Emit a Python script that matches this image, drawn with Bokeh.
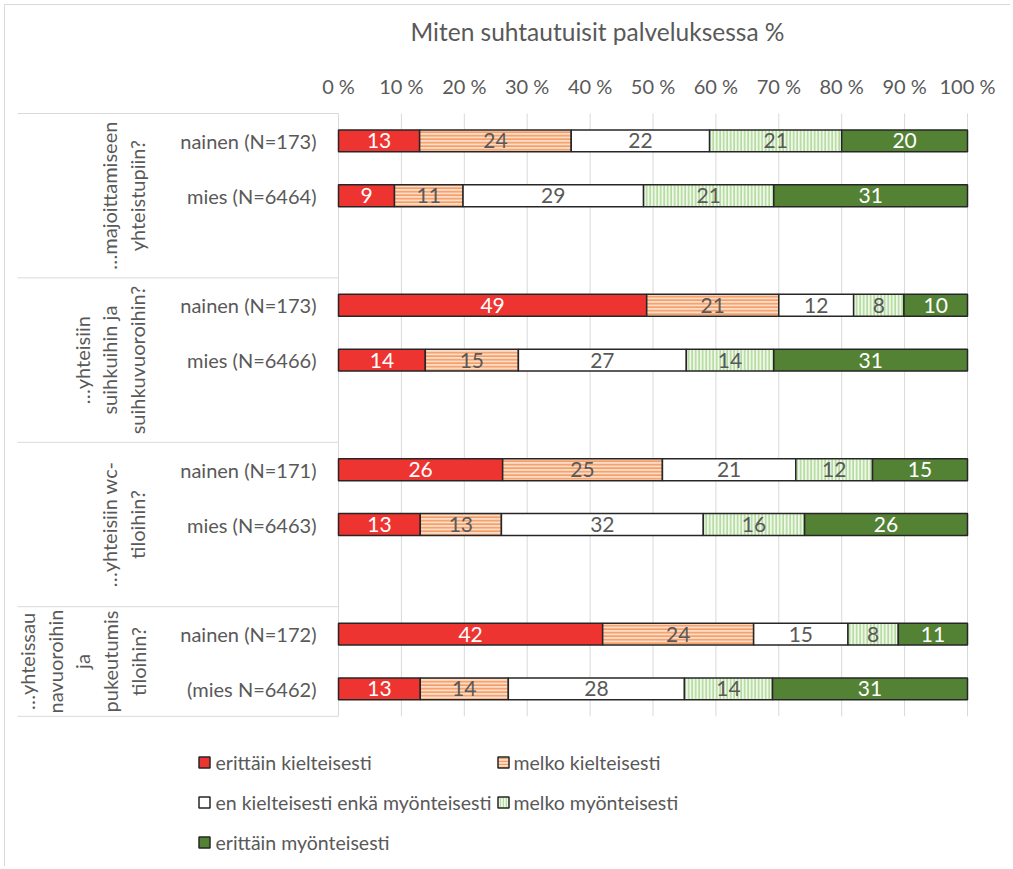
import math
from bokeh.plotting import figure
from bokeh.models import Range1d, FixedTicker, PrintfTickFormatter, ColumnDataSource
from bokeh.core.properties import value
from bokeh.embed import file_html
from bokeh.resources import INLINE

# ---------------- data ----------------
chart_title = "Miten suhtautuisit palveluksessa %"
series_names = ["erittäin kielteisesti", "melko kielteisesti",
                "en kielteisesti enkä myönteisesti", "melko myönteisesti",
                "erittäin myönteisesti"]
questions = ["…majoittamiseen\nyhteistupiin?",
             "…yhteisiin\nsuihkuihin ja\nsuihkuvuoroihin?",
             "…yhteisiin wc-\ntiloihin?",
             "…yhteissau\nnavuoroihin\nja\npukeutumis\ntiloihin?"]
respondents = ["nainen (N=173)", "mies (N=6464)",
               "nainen (N=173)", "mies (N=6466)",
               "nainen (N=171)", "mies (N=6463)",
               "nainen (N=172)", "(mies N=6462)"]
erittain_kielteisesti = [12.9, 8.9, 49.0, 13.8, 26.1, 13.0, 42.0, 13.0]
melko_kielteisesti = [24.1, 10.9, 21.0, 14.8, 25.4, 12.9, 24.0, 14.0]
en_kumpaakaan = [22.0, 28.7, 11.9, 26.7, 21.2, 32.1, 15.0, 28.0]
melko_myonteisesti = [21.0, 20.7, 8.0, 13.9, 12.2, 16.1, 8.0, 14.0]
erittain_myonteisesti = [20.0, 30.8, 10.1, 30.8, 15.1, 25.9, 11.0, 31.0]
tick_values = [0, 10, 20, 30, 40, 50, 60, 70, 80, 90, 100]

series_values = [erittain_kielteisesti, melko_kielteisesti, en_kumpaakaan,
                 melko_myonteisesti, erittain_myonteisesti]

# ---------------- styles ----------------
GREY = "#595959"
FONT = "Lato"
styles = [
    dict(fill_color="#EE3430", hatch_pattern=None, hatch_color=None, text="white"),
    dict(fill_color="#FCDDC9", hatch_pattern="horizontal_line", hatch_color="#F49C64", text=GREY),
    dict(fill_color="white", hatch_pattern=None, hatch_color=None, text=GREY),
    dict(fill_color="#EEF7E8", hatch_pattern="vertical_line", hatch_color="#B3DC9E", text=GREY),
    dict(fill_color="#548235", hatch_pattern=None, hatch_color=None, text="white"),
]

# ---------------- layout helpers (page pixels -> data) ----------------
X0, PXU = 338.0, 6.29      # page x of 0 %, pixels per percent
Y0, RH = 113.0, 54.8       # page y of top of first row, pixels per row
W, H = 1010, 866


def dx(page_x):
    return (page_x - X0) / PXU


def dy(page_y):
    return (page_y - Y0) / RH


p = figure(width=W, height=H, output_backend="svg", toolbar_location=None,
           x_range=Range1d(dx(0), dx(W)),
           y_range=Range1d(dy(H), dy(0)),
           x_axis_location="above", y_axis_location=None,
           min_border_left=0, min_border_right=0, min_border_bottom=0,
           min_border_top=0,
           styles={"background": "linear-gradient(#D9D9D9,#D9D9D9) 4px 4px / 1px 100% no-repeat, "
                                 "linear-gradient(#D9D9D9,#D9D9D9) 4px 4px / 100% 1px no-repeat, white"})
p.outline_line_color = None
p.grid.visible = False
p.background_fill_color = None
p.border_fill_color = None

# row positions: two rows per question, one empty spacer row between questions
rows = [3 * (i // 2) + (i % 2) + 0.5 for i in range(len(respondents))]
n_rows_total = 11

ax = p.xaxis[0]
ax.fixed_location = 0          # percentage axis sits on top edge of the bar area
ax.ticker = FixedTicker(ticks=tick_values)
ax.formatter = PrintfTickFormatter(format="%d %%")
ax.axis_line_color = None
ax.major_tick_line_color = None
ax.minor_tick_line_color = None
ax.major_tick_out = 0
ax.major_tick_in = 0
ax.major_label_standoff = 16
ax.major_label_text_font = FONT
ax.major_label_text_font_size = "20px"
ax.major_label_text_color = GREY

# title
p.text(x=[dx(597)], y=[dy(31)], text=[chart_title], text_align="center",
       text_baseline="middle", text_font=value(FONT), text_font_size="24.5px",
       text_color=GREY)

# gridlines
LINE = "#D9D9D9"
p.segment(x0=tick_values, y0=[0] * len(tick_values), x1=tick_values,
          y1=[n_rows_total] * len(tick_values), line_color=LINE, line_width=1)
# category table lines
sep = [0, 3, 6, 9, 11]
p.segment(x0=[dx(17)] * len(sep), y0=sep, x1=[0] * len(sep), y1=sep,
          line_color=LINE, line_width=1)

# stacked bars
left = [0.0] * len(rows)
for vals, st in zip(series_values, styles):
    right = [l + v for l, v in zip(left, vals)]
    mid = [(l + r) / 2 for l, r in zip(left, right)]
    src = ColumnDataSource(dict(y=rows, left=left, right=right, mid=mid,
                                lab=[f"{v:.0f}" for v in vals]))
    kw = dict(fill_color=st["fill_color"], line_color="#262626", line_width=1.5)
    if st["hatch_pattern"]:
        kw.update(hatch_pattern=st["hatch_pattern"], hatch_color=st["hatch_color"],
                  hatch_scale=3.5, hatch_weight=1.7)
    p.hbar(y="y", left="left", right="right", height=0.4, source=src, **kw)
    p.text(x="mid", y="y", text="lab", source=src, text_align="center",
           text_baseline="middle", text_font=value(FONT), text_font_size="21px",
           text_color=st["text"])
    left = right

# respondent labels
p.text(x=[dx(316)] * len(rows), y=rows, text=respondents, text_align="right",
       text_baseline="middle", text_font=value(FONT), text_font_size="20px",
       text_color=GREY)

# question labels (rotated)
q_lines = [q.count("\n") + 1 for q in questions]
q_x = [dx(136 - (n - 1) * 27 / 2) for n in q_lines]
q_y = [1.5, 4.5, 7.5, 10.0]
p.text(x=q_x, y=q_y, text=questions, angle=math.pi / 2, text_align="center",
       text_baseline="middle", text_font=value(FONT), text_font_size="20px",
       text_line_height=1.16, text_color=GREY)

# legend (drawn)
leg_x_sq = [dx(503 if i % 2 else 204) for i in range(len(series_names))]
leg_x_tx = [dx(513 if i % 2 else 215) for i in range(len(series_names))]
leg_y = [dy([762, 802, 842][i // 2]) for i in range(len(series_names))]
for i, st in enumerate(styles):
    kw = dict(fill_color=st["fill_color"], line_color="#262626", line_width=1.5)
    if st["hatch_pattern"]:
        kw.update(hatch_pattern=st["hatch_pattern"], hatch_color=st["hatch_color"],
                  hatch_scale=3, hatch_weight=1.4)
    p.rect(x=[leg_x_sq[i]], y=[leg_y[i]], width=11, height=11,
           width_units="screen", height_units="screen", **kw)
p.text(x=leg_x_tx, y=leg_y, text=series_names, text_align="left",
       text_baseline="middle", text_font=value(FONT), text_font_size="19.5px",
       text_color=GREY)

open("out.html", "w").write(file_html(p, INLINE))
